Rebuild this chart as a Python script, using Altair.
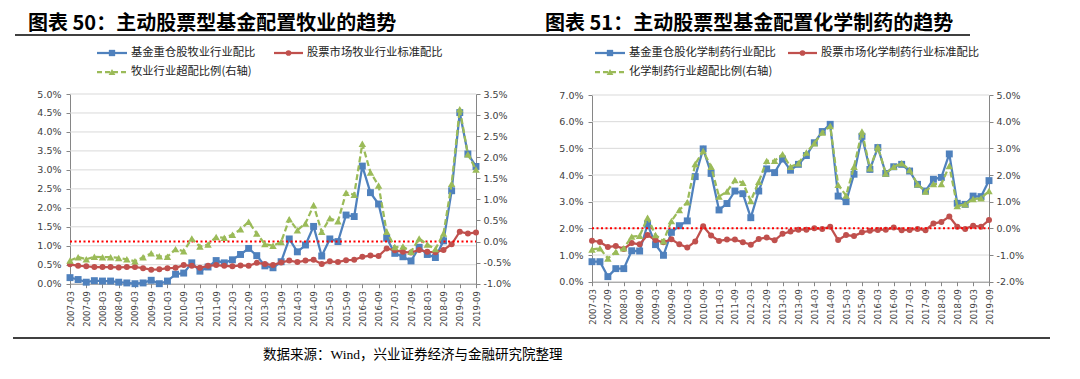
import altair as alt
import pandas as pd

# ---------------- data ----------------
quarters = [f"{y}-{m}" for y in range(2007, 2020) for m in ("03", "06", "09", "12")][:51]
tick_quarters = [q for q in quarters if q[-2:] in ("03", "09")]

left_fund = [0.16, 0.11, 0.04, 0.08, 0.07, 0.07, 0.04, 0.02, 0.00, 0.02,
             0.09, 0.00, 0.07, 0.25, 0.28, 0.55, 0.33, 0.44, 0.61, 0.55,
             0.63, 0.77, 0.93, 0.74, 0.47, 0.42, 0.58, 1.18, 0.84, 1.02,
             1.51, 0.73, 1.18, 1.11, 1.81, 1.77, 3.10, 2.40, 2.10, 1.20,
             0.80, 0.71, 0.60, 0.96, 0.77, 0.69, 1.13, 2.45, 4.51, 3.42, 3.09]
left_market = [0.51, 0.47, 0.46, 0.44, 0.44, 0.44, 0.43, 0.44, 0.44, 0.41,
               0.37, 0.38, 0.41, 0.42, 0.49, 0.47, 0.42, 0.47, 0.49, 0.47,
               0.46, 0.48, 0.47, 0.55, 0.52, 0.49, 0.56, 0.61, 0.57, 0.61,
               0.63, 0.52, 0.59, 0.57, 0.62, 0.63, 0.71, 0.74, 0.73, 0.93,
               0.88, 0.84, 0.82, 0.89, 0.84, 0.83, 0.89, 1.04, 1.37, 1.32, 1.35]
left_over = [-0.45, -0.37, -0.42, -0.36, -0.37, -0.37, -0.39, -0.42, -0.47, -0.37,
             -0.28, -0.35, -0.36, -0.18, -0.23, 0.07, -0.12, -0.07, 0.11, 0.09,
             0.16, 0.29, 0.47, 0.19, -0.06, -0.10, -0.01, 0.53, 0.27, 0.43,
             0.86, 0.23, 0.55, 0.48, 1.16, 1.11, 2.32, 1.64, 1.33, 0.23,
             -0.13, -0.12, -0.24, 0.07, -0.07, -0.18, 0.19, 1.37, 3.14, 2.07, 1.71]

right_fund = [0.75, 0.75, 0.19, 0.49, 0.49, 1.16, 1.15, 2.15, 1.39, 0.99,
              1.85, 2.10, 2.28, 3.94, 4.98, 4.06, 2.69, 2.93, 3.40, 3.30,
              2.40, 3.40, 4.23, 4.09, 4.60, 4.18, 4.40, 4.73, 5.21, 5.63,
              5.90, 3.21, 3.00, 4.03, 5.45, 4.21, 5.03, 4.06, 4.31, 4.40,
              4.15, 3.65, 3.40, 3.84, 3.91, 4.79, 2.94, 2.90, 3.21, 3.19, 3.79]
right_market = [1.54, 1.49, 1.30, 1.34, 1.23, 1.45, 1.40, 1.75, 1.56, 1.48,
                1.59, 1.40, 1.28, 1.51, 2.08, 1.73, 1.53, 1.58, 1.58, 1.48,
                1.39, 1.60, 1.66, 1.55, 1.80, 1.88, 1.95, 1.95, 2.00, 1.98,
                2.06, 1.56, 1.75, 1.71, 1.85, 1.91, 1.94, 1.95, 2.03, 1.93,
                1.94, 1.98, 1.93, 2.18, 2.24, 2.44, 2.06, 1.98, 2.10, 2.06, 2.31]
right_over = [-0.79, -0.75, -1.13, -0.88, -0.75, -0.31, -0.28, 0.40, -0.25, -0.48,
              0.28, 0.69, 0.98, 2.41, 2.90, 2.31, 1.19, 1.38, 1.81, 1.71,
              1.03, 1.75, 2.53, 2.53, 2.78, 2.31, 2.44, 2.84, 3.19, 3.59,
              3.84, 1.63, 1.23, 2.31, 3.63, 2.25, 3.06, 2.06, 2.31, 2.44,
              2.19, 1.65, 1.38, 1.66, 1.66, 2.34, 0.84, 0.90, 1.10, 1.13, 1.40]

left_ticks_l = [0.0, 0.5, 1.0, 1.5, 2.0, 2.5, 3.0, 3.5, 4.0, 4.5, 5.0]
left_ticks_r = [-1.0, -0.5, 0.0, 0.5, 1.0, 1.5, 2.0, 2.5, 3.0, 3.5]
right_ticks_l = [0.0, 1.0, 2.0, 3.0, 4.0, 5.0, 6.0, 7.0]
right_ticks_r = [-2.0, -1.0, 0.0, 1.0, 2.0, 3.0, 4.0, 5.0]

title_left = "图表 50：主动股票型基金配置牧业的趋势"
title_right = "图表 51：主动股票型基金配置化学制药的趋势"
legend_left = ["基金重仓股牧业行业配比", "股票市场牧业行业标准配比", "牧业行业超配比例(右轴)"]
legend_right = ["基金重仓股化学制药行业配比", "股票市场化学制药行业标准配比", "化学制药行业超配比例(右轴)"]
source_text = "数据来源：Wind，兴业证券经济与金融研究院整理"

# ---------------- style ----------------
W, H = 1064, 363
FONT = "DejaVu Sans"
CJK = "Noto Sans CJK SC"
BLUE, RED, GREEN = "#4F81BD", "#C0504D", "#9BBB59"
AXIS_C = "#868686"
GRID_C = "#D9D9D9"
LABEL_C = "#404040"
PCT = "replace(format(datum.value, '.1f'), '\u2212', '-') + '%'"


def y_axis(values, orient, offset, pad):
    return alt.Axis(values=values, orient=orient, offset=offset, labelExpr=PCT,
                    labelFont=FONT, labelFontSize=9.5, labelColor=LABEL_C,
                    labelPadding=pad, domainColor=AXIS_C, tickColor=AXIS_C,
                    tickSize=4, grid=False, title=None, labelOverlap=False)


def panel(fund, market, over, xr, yr, ldom, lticks, rdom, rticks):
    df = pd.DataFrame({"quarter": quarters, "fund": fund,
                       "market": market, "over": over})
    xs = alt.Scale(type="point", domain=quarters, range=xr, padding=0)
    x_axis = alt.Axis(values=tick_quarters, orient="bottom", offset=yr[0] - H,
                      labelAngle=-90, labelAlign="right", labelBaseline="middle",
                      labelFont=FONT, labelFontSize=8.5, labelColor=LABEL_C,
                      labelPadding=3, domainColor=AXIS_C, tickColor=AXIS_C,
                      tickSize=4, grid=False, title=None, labelOverlap=False)
    x_enc = alt.X("quarter:N", sort=None, scale=xs, axis=x_axis)
    yl = alt.Scale(domain=ldom, range=yr, nice=False, zero=False)
    yrs = alt.Scale(domain=rdom, range=yr, nice=False, zero=False)
    yl_axis = y_axis(lticks, "left", -xr[0], 5)
    yr_axis = y_axis(rticks, "right", xr[1] - W, 3)

    grid = alt.Chart(pd.DataFrame({"g": lticks[1:]})).mark_rule(
        color=GRID_C, strokeWidth=1).encode(
        y=alt.Y("g:Q", scale=yl, axis=yl_axis),
        x=alt.value(xr[0]), x2=alt.value(xr[1]))
    base = alt.Chart(df)
    blue = base.mark_line(color=BLUE, strokeWidth=2.25,
                          point=alt.OverlayMarkDef(shape="square", size=48, filled=True,
                                                   color=BLUE, opacity=1)).encode(
        x=x_enc, y=alt.Y("fund:Q", scale=yl, axis=yl_axis))
    red = base.mark_line(color=RED, strokeWidth=2.25,
                         point=alt.OverlayMarkDef(shape="circle", size=36, filled=True,
                                                  color=RED, opacity=1)).encode(
        x=x_enc, y=alt.Y("market:Q", scale=yl, axis=yl_axis))
    zero = alt.Chart(pd.DataFrame({"z": [0.0]})).mark_rule(
        color="#FF0000", strokeWidth=2, strokeDash=[2, 2.5]).encode(
        y=alt.Y("z:Q", scale=yrs, axis=yr_axis),
        x=alt.value(xr[0]), x2=alt.value(xr[1]))
    green = base.mark_line(color=GREEN, strokeWidth=2.25, strokeDash=[6, 3],
                           point=alt.OverlayMarkDef(shape="triangle-up", size=56, filled=True,
                                                    color=GREEN, opacity=1)).encode(
        x=x_enc, y=alt.Y("over:Q", scale=yrs, axis=yr_axis))
    main = alt.layer(grid, blue, red)
    sec = alt.layer(zero, green)
    return alt.layer(main, sec).resolve_scale(y="independent")


left_panel = panel(left_fund, left_market, left_over, [62, 468], [275.7, 86],
                   [0, 5], left_ticks_l, [-1, 3.5], left_ticks_r)
right_panel = panel(right_fund, right_market, right_over, [584, 981], [273.7, 87],
                    [0, 7], right_ticks_l, [-2, 5], right_ticks_r)

dummy = pd.DataFrame({"k": [0]})


def txt(s, x, y, size, font, weight="normal", color="#000000"):
    return alt.Chart(dummy).mark_text(text=s, align="left", baseline="middle", font=font,
                                      fontSize=size, fontWeight=weight, color=color).encode(
        x=alt.value(x), y=alt.value(y))


def hline(x1, x2, y, color, width, dash=None):
    kw = dict(color=color, strokeWidth=width)
    if dash:
        kw["strokeDash"] = dash
    return alt.Chart(dummy).mark_rule(**kw).encode(
        x=alt.value(x1), x2=alt.value(x2), y=alt.value(y))


def marker(x, y, shape, size, color):
    return alt.Chart(dummy).mark_point(shape=shape, size=size, filled=True, color=color,
                                       opacity=1).encode(x=alt.value(x), y=alt.value(y))


def legend(x0, xr0, y1, y2, labels):
    items = []
    items += [hline(x0, x0 + 30, y1, BLUE, 2.25), marker(x0 + 15, y1, "square", 40, BLUE),
              txt(labels[0], x0 + 34, y1, 11.3, CJK, color="#222222")]
    items += [hline(xr0, xr0 + 29, y1, RED, 2.25), marker(xr0 + 14.5, y1, "circle", 32, RED),
              txt(labels[1], xr0 + 33, y1, 11.3, CJK, color="#222222")]
    items += [hline(x0, x0 + 30, y2, GREEN, 2.25, [5, 3]),
              marker(x0 + 15, y2, "triangle-up", 46, GREEN),
              txt(labels[2], x0 + 34, y2, 11.3, CJK, color="#222222")]
    return items


deco = []
deco.append(txt(title_left, 20, 15.5, 20, CJK, "bold"))
deco.append(txt(title_right, 537, 15.5, 20, CJK, "bold"))
deco.append(hline(7, 962, 27, "#000000", 1.5))
deco += legend(89, 266, 45, 64, legend_left)
deco += legend(587, 780, 45, 64, legend_right)
deco.append(hline(5, 1042, 330, "#000000", 1.5))
deco.append(txt(source_text, 255, 347, 13.5, "Liberation Serif, " + CJK))

chart = alt.layer(left_panel, right_panel, *deco).resolve_scale(
    x="independent", y="independent").properties(
    width=W, height=H, autosize=alt.AutoSizeParams(type="none"), padding=0
).configure_view(stroke=None)

chart.save("out.html", embed_options={"renderer": "svg", "actions": False})
